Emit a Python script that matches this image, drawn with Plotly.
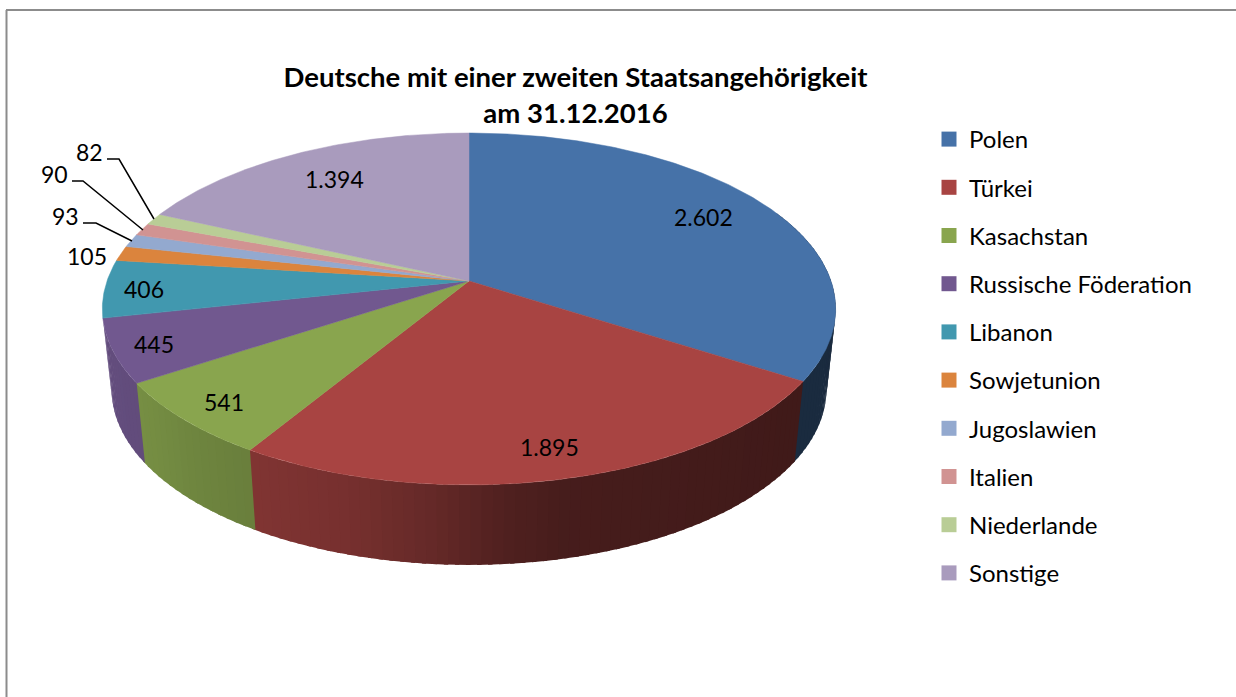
import numpy as np
import plotly.graph_objects as go

# ---- data ----
categories = ["Polen", "Türkei", "Kasachstan", "Russische Föderation", "Libanon",
              "Sowjetunion", "Jugoslawien", "Italien", "Niederlande", "Sonstige"]
values = [2602, 1895, 541, 445, 406, 105, 93, 90, 82, 1394]
value_labels = ["2.602", "1.895", "541", "445", "406", "105", "93", "90", "82", "1.394"]
colors = ["#4672A8", "#A84442", "#89A54E", "#71588F", "#4198AF",
          "#DB843D", "#93A9CF", "#D19392", "#B9CD96", "#A99BBD"]

# ---- pie projection (tilted disc seen in perspective) ----
CX, CY = 469.0, 281.0
A, B, K = 362.0, 171.5, 0.159
DEPTH, BOTTOM_SCALE = 80.0, 0.975
FONT = "Lato"


def rim(theta_deg, bottom=False):
    t = np.radians(theta_deg)
    X, Y = np.sin(t), -np.cos(t)
    w = 1 - K * Y
    x, y = A * X / w, B * Y / w
    if bottom:
        return CX + x * BOTTOM_SCALE, CY + y + DEPTH
    return CX + x, CY + y


def shade(hex_color, f):
    rgb = [int(hex_color[i:i + 2], 16) for i in (1, 3, 5)]
    return "rgb(%d,%d,%d)" % tuple(int(round(c * f)) for c in rgb)


SHADE_X = [100, 140, 200, 260, 350, 430, 500, 560, 700, 840]
SHADE_F = [0.88, 0.86, 0.80, 0.76, 0.70, 0.60, 0.48, 0.42, 0.40, 0.37]

total = sum(values)
edges = np.concatenate([[0], np.cumsum(values)]) / total * 360.0
SIDE_END = edges[4]  # the wall ends where the rim turns away from the viewer

fig = go.Figure()

# side wall, drawn as thin strips so that the shading runs across it;
# each strip reaches slightly under the next one so no seam can show
for i, col in enumerate(colors):
    lo, hi = max(edges[i], 65.0), min(edges[i + 1], SIDE_END)
    if hi <= lo:
        continue
    n = max(1, int((hi - lo) / 1.5))
    steps = np.linspace(lo, hi, n + 1)
    for a0, a1 in zip(steps[:-1], steps[1:]):
        a1x = min(a1 + 0.6, SIDE_END)
        x0, y0 = rim(a0)
        x1, y1 = rim(a1x)
        x2, y2 = rim(a1x, True)
        x3, y3 = rim(a0, True)
        f = float(np.interp((x0 + x1) / 2, SHADE_X, SHADE_F))
        fig.add_trace(go.Scatter(
            x=[x0, x1, x2, x3, x0], y=[y0, y1, y2, y3, y0], mode="none",
            fill="toself", fillcolor=shade(col, f),
            hoverinfo="skip", showlegend=False))

# top faces
for i, col in enumerate(colors):
    n = max(2, int((edges[i + 1] - edges[i]) / 0.5))
    rx, ry = rim(np.linspace(edges[i], edges[i + 1], n + 1))
    fig.add_trace(go.Scatter(
        x=np.concatenate([[CX], rx, [CX]]), y=np.concatenate([[CY], ry, [CY]]),
        mode="lines", fill="toself", fillcolor=col, line=dict(color=col, width=0.5),
        name=categories[i], text=[value_labels[i]], hoverinfo="name", showlegend=False))

# leader lines for the small slices
leaders = [
    ([83, 96, 132], [223, 223, 241]),
    ([72, 83, 143], [181, 181, 230]),
    ([107, 119, 154], [159, 159, 219]),
]
for lx, ly in leaders:
    fig.add_trace(go.Scatter(x=lx, y=ly, mode="lines", line=dict(color="black", width=1.5),
                             hoverinfo="skip", showlegend=False))

# legend entries
for i, col in enumerate(colors):
    fig.add_trace(go.Scatter(x=[None], y=[None], mode="markers", name=categories[i],
                             legendgroup=categories[i],
                             marker=dict(symbol="square", size=15, color=col)))

label_xy = [(703, 217), (549, 447), (224, 402), (154, 344), (144, 289),
            (87, 256), (65, 216), (54, 174), (89, 152), (334, 179)]
annotations = [
    dict(x=x, y=y, text=t, showarrow=False, xanchor="center", yanchor="middle",
         font=dict(family=FONT, size=23, color="black"))
    for (x, y), t in zip(label_xy, value_labels)
]

fig.update_layout(
    width=1236, height=697, margin=dict(l=0, r=0, t=0, b=0),
    paper_bgcolor="white", plot_bgcolor="white",
    xaxis=dict(range=[0, 1236], visible=False, fixedrange=True),
    yaxis=dict(range=[697, 0], visible=False, fixedrange=True),
    title=dict(text="<b>Deutsche mit einer zweiten Staatsangehörigkeit<br>am 31.12.2016</b>",
               x=575.5 / 1236, xanchor="center", y=1 - 87 / 697, yanchor="top",
               font=dict(family=FONT, size=27.5, color="black")),
    legend=dict(x=929 / 1236, xanchor="left", y=1 - 117 / 697, yanchor="top",
                tracegroupgap=14, font=dict(family=FONT, size=24, color="black"),
                bgcolor="rgba(0,0,0,0)", itemclick=False, itemdoubleclick=False),
    annotations=annotations,
    shapes=[
        dict(type="line", xref="x", yref="y", x0=6.5, x1=6.5, y0=10, y1=697,
             line=dict(color="#8C8C8C", width=2)),
        dict(type="line", xref="x", yref="y", x0=6, x1=1236, y0=10, y1=10,
             line=dict(color="#8C8C8C", width=2)),
    ],
)

fig.write_html("out.html", config={"displayModeBar": False},
               post_script="document.body.style.margin='0';")
